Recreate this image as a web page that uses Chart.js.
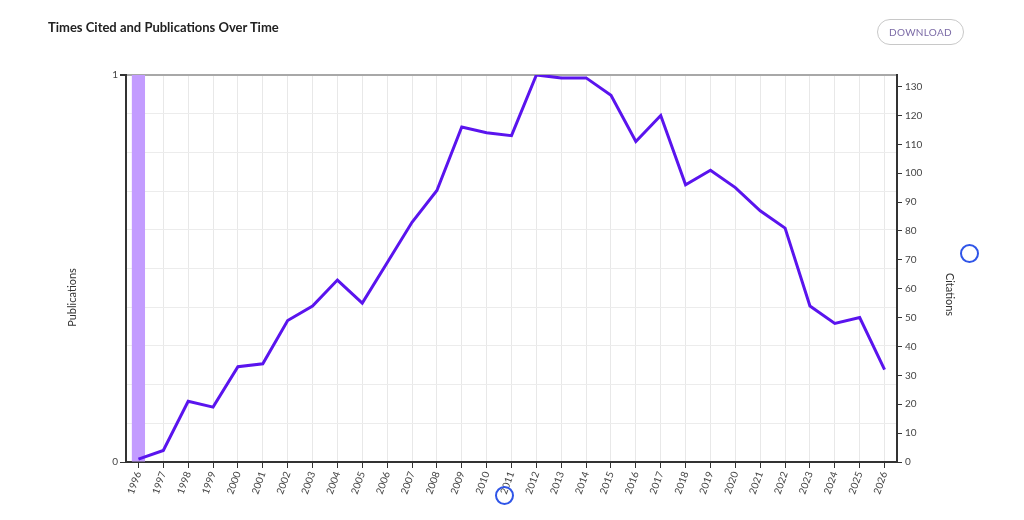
<!DOCTYPE html>
<html>
<head>
<meta charset="utf-8">
<script src="https://cdn.jsdelivr.net/npm/chart.js@4/dist/chart.umd.min.js"></script>
<style>
    html, body { margin: 0; padding: 0; background: #fff; }
    body { width: 1024px; height: 520px; position: relative; overflow: hidden; font-family: Lato, "Open Sans", sans-serif; }
    #title { position: absolute; left: 48px; top: 19px; font-size: 13px; font-weight: bold; color: #222; }
    #download {
        position: absolute; left: 877px; top: 19px; width: 85px; height: 24px;
        border: 1px solid #c8c8c8; border-radius: 13px; color: #7b6aa6;
        font-size: 10px; line-height: 24px; text-align: center; letter-spacing: 0.3px;
    }
    .ring { position: absolute; width: 15px; height: 15px; border: 2.5px solid #2f55e8; border-radius: 50%; }
    #wrap { position: absolute; left: 0; top: 0; width: 1024px; height: 520px; }
</style>
</head>
<body>
<div id="wrap"><canvas id="chart"></canvas></div>
<div id="title">Times Cited and Publications Over Time</div>
<div id="download">DOWNLOAD</div>
<div class="ring" style="left:960px; top:244px;"></div>
<div class="ring" style="left:495px; top:486px;"></div>
<script>
const years = ['1996', '1997', '1998', '1999', '2000', '2001', '2002', '2003', '2004', '2005',
    '2006', '2007', '2008', '2009', '2010', '2011', '2012', '2013', '2014', '2015',
    '2016', '2017', '2018', '2019', '2020', '2021', '2022', '2023', '2024', '2025', '2026']
const publications = [1, 0, 0, 0, 0, 0, 0, 0, 0, 0,
    0, 0, 0, 0, 0, 0, 0, 0, 0, 0,
    0, 0, 0, 0, 0, 0, 0, 0, 0, 0, 0]
const citations = [1, 4, 21, 19, 33, 34, 49, 54, 63, 55,
    69, 83, 94, 116, 114, 113, 134, 133, 133, 127,
    111, 120, 96, 101, 95, 87, 81, 54, 48, 50, 32]
const citationTicks = [0, 10, 20, 30, 40, 50, 60, 70, 80, 90, 100, 110, 120, 130]

const tickFont = { family: 'Lato', size: 10 }

// axis titles centred between plot top and canvas bottom, like the original
const axisTitles = {
    id: 'axisTitles',
    afterDraw(chart) {
        const { ctx, chartArea } = chart
        const midY = (chartArea.top + chart.height) / 2
        ctx.save()
        ctx.font = '11px Lato'
        ctx.fillStyle = '#333'
        ctx.textAlign = 'center'
        ctx.textBaseline = 'middle'
        ctx.translate(chartArea.left - 54, midY)
        ctx.rotate(-Math.PI / 2)
        ctx.fillText('Publications', 0, 0)
        ctx.restore()

        ctx.save()
        ctx.font = '11px Lato'
        ctx.fillStyle = '#333'
        ctx.textAlign = 'center'
        ctx.textBaseline = 'middle'
        ctx.translate(chartArea.right + 53, midY - 3)
        ctx.rotate(Math.PI / 2)
        ctx.fillText('Citations', 0, 0)
        ctx.restore()
    }
}

new Chart(document.getElementById('chart').getContext('2d'), {
    data: {
        labels: years,
        datasets: [
            {
                type: 'line',
                label: 'Citations',
                data: citations,
                yAxisID: 'y1',
                borderColor: '#5a14ee',
                borderWidth: 3,
                pointRadius: 0,
                tension: 0,
                order: 0
            },
            {
                type: 'bar',
                label: 'Publications',
                data: publications,
                yAxisID: 'y',
                backgroundColor: '#c39cff',
                barPercentage: 0.53,
                categoryPercentage: 1,
                order: 1
            }
        ]
    },
    options: {
        responsive: true,
        maintainAspectRatio: false,
        animation: false,
        layout: { padding: { top: 75, left: 0, right: 0, bottom: 0 } },
        plugins: {
            legend: { display: false },
            tooltip: { enabled: false }
        },
        scales: {
            x: {
                offset: true,
                afterFit: scale => { scale.height = 58 },
                grid: {
                    offset: false,
                    color: '#e8e8e8',
                    tickColor: '#333',
                    tickLength: 6
                },
                border: { color: '#333', width: 2 },
                ticks: {
                    font: tickFont,
                    color: '#444',
                    minRotation: 70,
                    maxRotation: 70,
                    autoSkip: false,
                    padding: 2
                }
            },
            y: {
                position: 'left',
                min: 0,
                max: 1,
                afterFit: scale => { scale.width = 126 },
                grid: {
                    color: ctx => ctx.tick && ctx.tick.value === 1 ? '#a8a8a8' : '#ececec',
                    lineWidth: ctx => ctx.tick && ctx.tick.value === 1 ? 2 : 1,
                    tickColor: ctx => ctx.tick && (ctx.tick.value === 0 || ctx.tick.value === 1) ? '#333' : 'rgba(0,0,0,0)',
                    tickLength: 6
                },
                border: { color: '#333', width: 2 },
                ticks: {
                    stepSize: 0.1,
                    font: tickFont,
                    color: '#444',
                    padding: 2,
                    callback: v => (v === 0 || v === 1) ? String(v) : ''
                }
            },
            y1: {
                position: 'right',
                min: 0,
                max: 134,
                afterFit: scale => { scale.width = 127 },
                afterBuildTicks: scale => {
                    scale.ticks = citationTicks.map(v => ({ value: v }))
                },
                grid: {
                    drawOnChartArea: false,
                    tickColor: '#333',
                    tickLength: 5
                },
                border: { color: '#333', width: 2 },
                ticks: {
                    font: tickFont,
                    color: '#444',
                    padding: 3
                }
            }
        }
    },
    plugins: [axisTitles]
});
</script>
</body>
</html>
